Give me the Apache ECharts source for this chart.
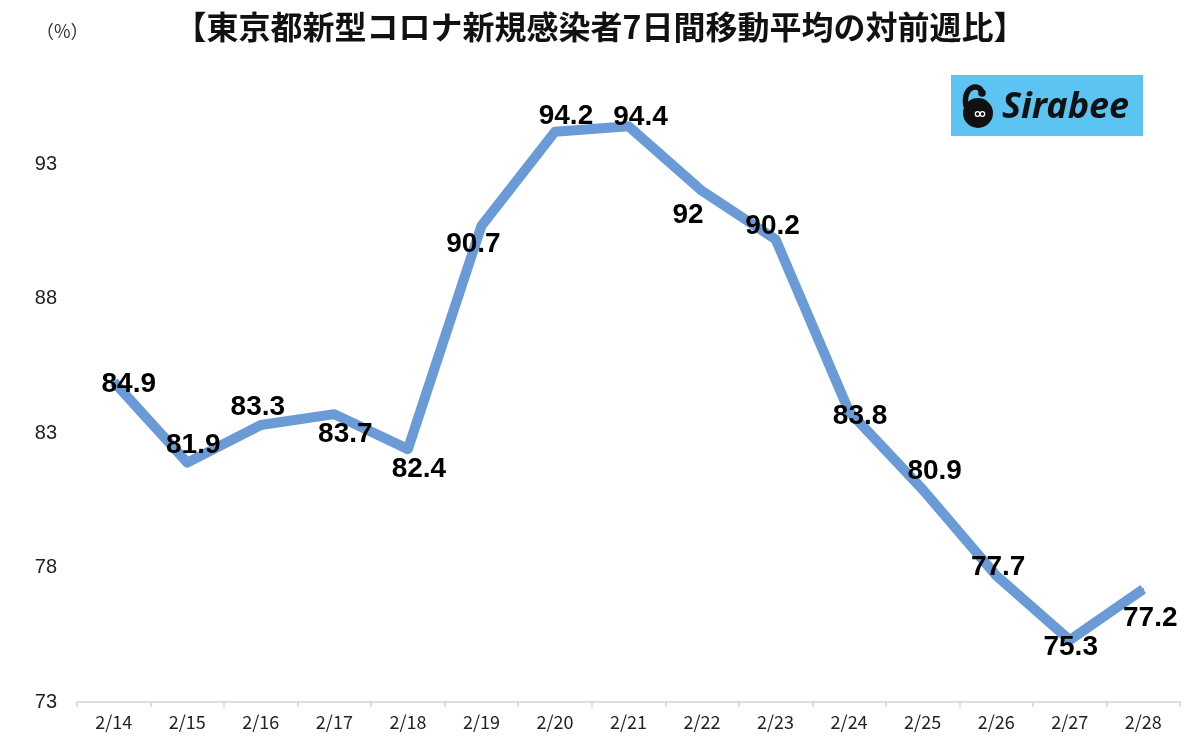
<!DOCTYPE html>
<html>
<head>
<meta charset="utf-8">
<script src="https://cdn.jsdelivr.net/npm/echarts@6/dist/echarts.min.js"></script>
<style>
html,body{margin:0;padding:0;background:#fff;}
#chart{width:1200px;height:741px;}
</style>
</head>
<body>
<div id="chart"></div>
<script>
const titleText = '【東京都新型コロナ新規感染者7日間移動平均の対前週比】';
const unitText = '（%）';
const categories = ['2/14','2/15','2/16','2/17','2/18','2/19','2/20','2/21','2/22','2/23','2/24','2/25','2/26','2/27','2/28'];
const values = [84.9, 81.9, 83.3, 83.7, 82.4, 90.7, 94.2, 94.4, 92, 90.2, 83.8, 80.9, 77.7, 75.3, 77.2];
const yMin = 73, yMax = 98, yInterval = 5;

// label layout offsets (styling, not data)
const labelOffsets = [[15,2],[6,-17],[-3,-18],[11,20],[11,20],[-8,18],[11,-15],[12,-9],[-14,24],[-3,-13],[11,5],[12,-18],[2,-8],[1,7],[7,29]];

const chart = echarts.init(document.getElementById('chart'), null, {renderer:'canvas'});
const LINE = '#6b9bd6';

const seriesData = values.map((v, i) => ({
  value: v,
  label: { offset: labelOffsets[i] }
}));

chart.setOption({
  backgroundColor: '#fff',
  animation: false,
  grid: { left: 77, right: 20, top: 29.5, bottom: 39, containLabel: false },
  title: {
    text: titleText,
    left: 'center',
    top: 6,
    textStyle: { fontFamily: 'Noto Sans CJK JP', fontWeight: 'bold', fontSize: 32, color: '#111' }
  },
  graphic: [
    { type: 'text', x: 36, y: 22, style: { text: unitText, font: '18px "Noto Sans CJK JP"', fill: '#333' } },
    { type: 'rect', shape: { x: 951, y: 75, width: 192, height: 61 }, style: { fill: '#5bc4f2' } },
    { type: 'circle', shape: { cx: 978, cy: 113, r: 15 }, style: { fill: '#111' } },
    { type: 'bezierCurve', shape: { x1: 966, y1: 106, cpx1: 962, cpy1: 86, cpx2: 980, cpy2: 82, x2: 982, y2: 93 }, style: { fill: 'none', stroke: '#111', lineWidth: 5.5, lineCap: 'round' } },
    { type: 'circle', shape: { cx: 982, cy: 93, r: 3.8 }, style: { fill: '#111' } },
    { type: 'circle', shape: { cx: 977.6, cy: 114, r: 2.3 }, style: { fill: 'none', stroke: '#fff', lineWidth: 1.3 } },
    { type: 'circle', shape: { cx: 982.4, cy: 114, r: 2.3 }, style: { fill: 'none', stroke: '#fff', lineWidth: 1.3 } },
    { type: 'text', x: 1002, y: 90, style: { text: 'Sirabee', font: 'italic bold 36px "Noto Sans", sans-serif', fill: '#111' } }
  ],
  xAxis: {
    type: 'category',
    data: categories,
    boundaryGap: true,
    axisLine: { show: true, lineStyle: { color: '#d4d4d4', width: 1.5 } },
    axisTick: { show: true, length: 5, lineStyle: { color: '#d4d4d4', width: 1.5 } },
    axisLabel: { color: '#222', fontSize: 18, margin: 11, fontFamily: 'Noto Sans CJK JP' },
    splitLine: { show: false }
  },
  yAxis: {
    type: 'value',
    min: yMin, max: yMax, interval: yInterval,
    axisLine: { show: false },
    axisTick: { show: false },
    splitLine: { show: false },
    axisLabel: { color: '#222', fontSize: 20, margin: 20, showMaxLabel: false, fontFamily: 'Liberation Sans' }
  },
  series: [{
    type: 'line',
    data: seriesData,
    symbol: 'circle',
    symbolSize: 2,
    itemStyle: { color: LINE },
    lineStyle: { color: LINE, width: 10, join: 'round' },
    label: {
      show: true,
      position: 'inside',
      color: '#000',
      fontSize: 28,
      fontWeight: 'bold',
      fontFamily: 'Liberation Sans'
    }
  }]
});
</script>
</body>
</html>
